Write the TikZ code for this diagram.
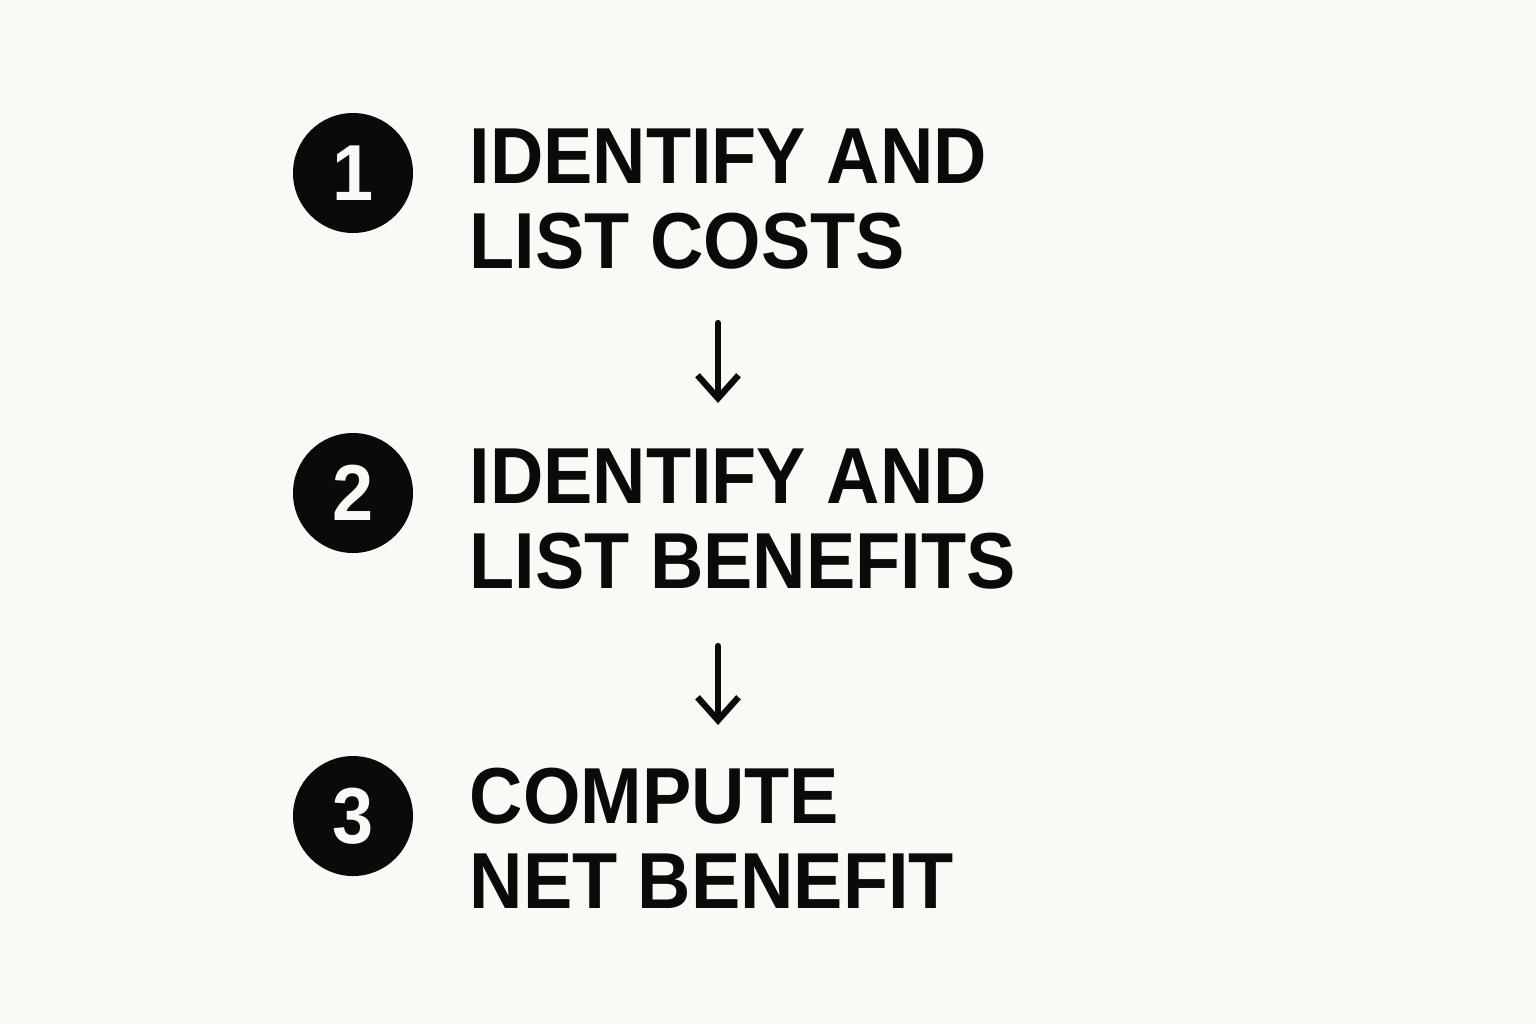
\documentclass[tikz,border=0pt]{standalone}
\usepackage{fontspec}
\setmainfont{Liberation Sans}[FakeStretch=0.93]
\usetikzlibrary{arrows.meta}
\definecolor{paper}{RGB}{250,249,246}
\definecolor{ink}{RGB}{10,10,10}

\begin{document}
\begin{tikzpicture}
[every node/.style={inner sep=0pt},
 numdot/.style={circle,fill=ink,minimum size=1.2cm,text=paper,font=\fontsize{22.6}{24}\selectfont\bfseries},
 steptext/.style={anchor=base west,align=left,text=ink,font=\fontsize{22.6}{24.1}\selectfont\bfseries},
 flow/.style={-{Straight Barb[length=2.3mm,width=4.1mm]},line width=1.8pt,line cap=round,line join=round,draw=ink}]
  \fill[paper] (0,0) rectangle (15.36,-10.24);
  \useasboundingbox (0,0) rectangle (15.36,-10.24);

  \node[numdot] (c1) at (3.53,-1.73) {1};
  \node[numdot] (c2) at (3.53,-4.93) {2};
  \node[numdot] (c3) at (3.53,-8.16) {3};

  % base anchor sits on the last line
  \node[steptext] (s1) at (4.69,-2.68) {IDENTIFY AND\\LIST COSTS};
  \node[steptext] (s2) at (4.69,-5.88) {IDENTIFY AND\\LIST BENEFITS};
  \node[steptext] (s3) at (4.69,-9.08) {COMPUTE\\NET BENEFIT};

  \coordinate (a1) at (7.18,-3.23);
  \coordinate (b1) at (7.18,-4.03);
  \coordinate (a2) at (7.18,-6.46);
  \coordinate (b2) at (7.18,-7.25);

  \foreach \from/\to in {a1/b1,a2/b2}
    \draw[flow] (\from) -- (\to);

\end{tikzpicture}
\end{document}
